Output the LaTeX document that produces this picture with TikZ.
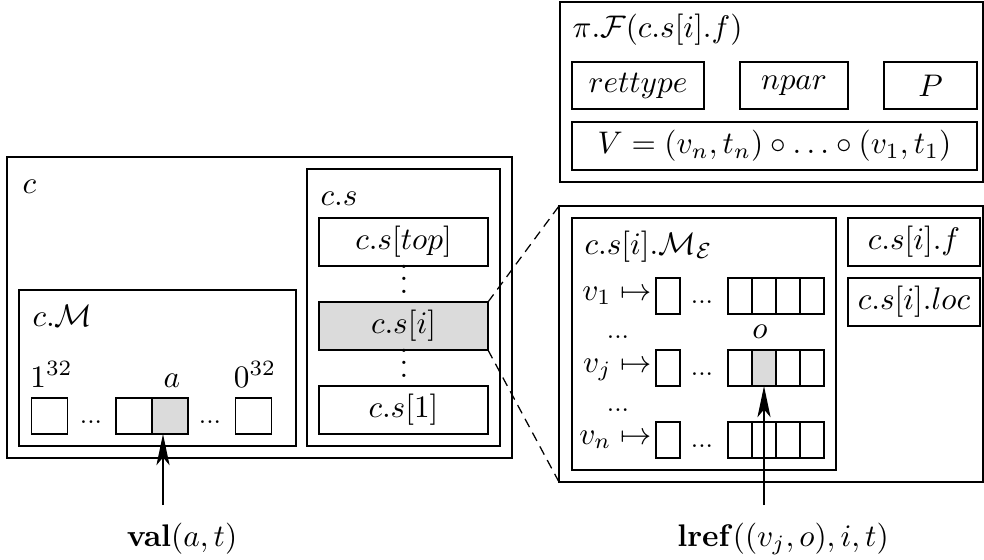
\documentclass[tikz,border=0pt]{standalone}
\usetikzlibrary{arrows.meta}
\newcommand{\pxu}{0.32pt}

\begin{document}
\begin{tikzpicture}[x=\pxu, y=-\pxu,
    box/.style={draw, inner sep=0pt, outer sep=0pt},
    sz/.style 2 args={minimum width=#1*\pxu, minimum height=#2*\pxu},
    hl/.style={fill=black!14},
    lbl/.style={inner sep=0pt},
    dts/.style={inner sep=0pt, font=\footnotesize},
    vdt/.style={inner sep=0pt, text height=8pt, text depth=0pt},
    ptr/.style={-{Stealth[length=10pt,width=4.2pt,inset=2.5pt]}}]
    \useasboundingbox (0,0) rectangle (984,559);

    %%%%% configuration c %%%%%
    \node[box, sz={505}{301}] (cfr) at (259.5,307.5) {};
    \node[lbl, anchor=base west] (clbl) at (22,193) {$c$};

    % stack
    \node[box, sz={193}{277}] (cs) at (403.5,307.5) {};
    \node[lbl, anchor=base west] (cslbl) at (320,205) {$c.s$};
    \node[box, sz={169}{48}] (stop) at (403.5,242) {$c.s[top]$};
    \node[vdt, anchor=base] (vd1) at (404,293) {$\vdots$};
    \node[box, hl, sz={169}{48}] (si) at (403.5,326) {$c.s[i]$};
    \node[vdt, anchor=base] (vd2) at (404,377) {$\vdots$};
    \node[box, sz={169}{48}] (s1) at (403.5,410) {$c.s[1]$};

    % memory
    \node[box, sz={277}{156}] (cm) at (157.5,368) {};
    \node[lbl, anchor=base west] (cmlbl) at (32,326) {$c.\mathcal{M}$};
    \node[lbl, anchor=base] (hi) at (51.5,387) {$1^{32}$};
    \node[lbl, anchor=base] (alb) at (172,387) {$a$};
    \node[lbl, anchor=base] (lo) at (255,387) {$0^{32}$};
    \node[box, sz={36}{36}] (m1) at (49.5,416) {};
    \node[dts, anchor=base] (md1) at (91,423) {...};
    \node[box, sz={36}{36}] (m2) at (134,416) {};
    \node[box, hl, sz={36}{36}] (m3) at (170,416) {};
    \node[dts, anchor=base] (md2) at (210,423) {...};
    \node[box, sz={36}{36}] (m4) at (253.5,416) {};

    %%%%% stack frame c.s[i] %%%%%
    \node[box, sz={424}{276}] (frm) at (771,344) {};
    \draw[dash pattern=on 3pt off 2pt] (si.north east) -- (frm.north west);
    \draw[dash pattern=on 3pt off 2pt] (si.south east) -- (frm.south west);

    \node[box, sz={264}{252}] (me) at (704,344) {};
    \node[lbl, anchor=base west] (melbl) at (584,254) {$c.s[i].\mathcal{M}_{\mathcal{E}}$};
    \node[box, sz={132}{48}] (sf) at (914,242) {$c.s[i].f$};
    \node[box, sz={132}{48}] (sloc) at (914,302) {$c.s[i].loc$};

    \foreach \rw/\vn/\yy/\gk in {ra/1/296/0, rb/j/368/2, rc/n/440/0}{
        \node[lbl, anchor=base east] (\rw lab) at (652,\yy+4) {$v_{\vn}\mapsto$};
        \node[box, sz={24}{36}] (\rw0) at (668,\yy) {};
        \node[dts, anchor=base] (\rw dots) at (702,\yy+7) {...};
        \foreach \k in {1,...,4}{
            \ifnum\k=\gk \def\cf{black!14}\else\def\cf{white}\fi
            \node[box, fill=\cf, sz={24}{36}] (\rw\k) at ({716+24*\k},\yy) {};
        }
    }
    \node[dts, anchor=base] (bd1) at (618,338) {...};
    \node[dts, anchor=base] (bd2) at (618,411) {...};
    \node[lbl, anchor=base] (olbl) at (760,338) {$o$};

    %%%%% function pi.F %%%%%
    \node[box, sz={423}{180}] (fn) at (771.5,92) {};
    \node[lbl, anchor=base west] (fnlbl) at (572,37) {$\pi.\mathcal{F}(c.s[i].f)$};
    \node[box, sz={132}{47}] (rt) at (638,85.5) {$rettype$};
    \node[box, sz={108}{47}] (np) at (794,85.5) {$npar$};
    \node[box, sz={93}{47}] (pp) at (930.5,85.5) {$P$};
    \node[box, sz={405}{48}] (vv) at (774.5,146) {$V = (v_n,t_n)\circ\ldots\circ(v_1,t_1)$};

    %%%%% accesses %%%%%
    \node (val) at (182,539) {$\mathbf{val}(a,t)$};
    \node (lref) at (783,539) {$\mathbf{lref}((v_j,o),i,t)$};
    \coordinate (vtail) at (163,505);
    \coordinate (ltail) at (764,505);
    \draw[ptr] (vtail) -- (vtail |- m3.south);
    \draw[ptr] (ltail) -- (rb2.south);
\end{tikzpicture}
\end{document}
